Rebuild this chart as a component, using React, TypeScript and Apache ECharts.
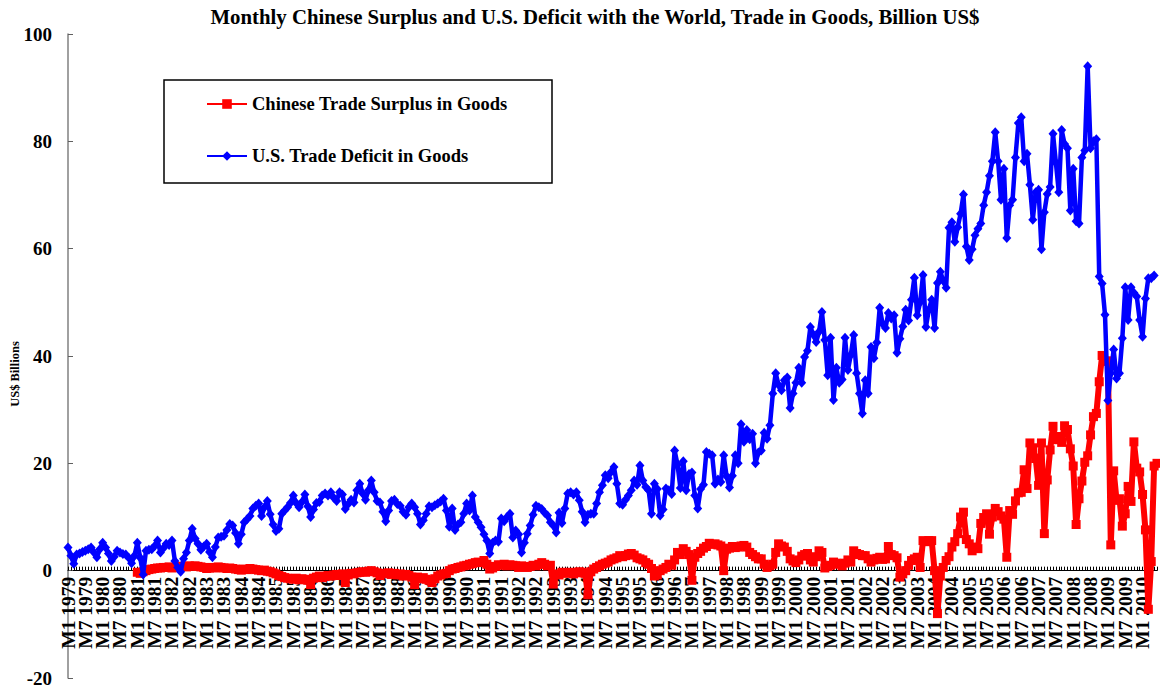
import React, { useEffect, useRef } from "react";
import * as echarts from "echarts";

// Category labels: monthly, M1 1979 .. M6 2010
const startYear = 1979;
const monthCount = 378;
const categories: string[] = [];
for (let k = 0; k < monthCount; k++) {
  const y = startYear + Math.floor(k / 12);
  const m = (k % 12) + 1;
  categories.push("M" + m + " " + y);
}
// tick labels: every sixth month, M1 1979 .. M1 2010
const LABEL_EVERY = 6;
const lastLabelIndex = 372;
const labelCategories = categories.filter((_, k) => k % LABEL_EVERY === 0 && k <= lastLabelIndex);

const yTicks = [-20, 0, 20, 40, 60, 80, 100];

// U.S. trade deficit in goods, billion US$ (M1 1979 .. M5 2010)
const usDeficit: (number | null)[] = [
  /*1979*/ 4.3, 2.8, 1.3, 3.0, 3.2, 3.5, 3.7, 4.0, 4.3, 3.4, 2.5, 4.0,
  /*1980*/ 5.2, 4.3, 3.2, 1.8, 2.6, 3.7, 3.4, 3.1, 3.0, 2.4, 1.4, 2.8,
  /*1981*/ 5.2, 2.4, -0.7, 3.7, 3.9, 4.0, 4.6, 5.6, 3.4, 4.2, 5.0, 4.8,
  /*1982*/ 5.6, 1.8, 0.6, -0.2, 2.2, 3.4, 5.6, 7.8, 6.0, 5.0, 3.9, 4.5,
  /*1983*/ 5.0, 3.5, 2.5, 4.4, 6.2, 6.3, 6.5, 7.6, 8.7, 8.4, 7.0, 5.0,
  /*1984*/ 6.8, 9.0, 9.6, 10.2, 11.6, 12.1, 12.5, 10.2, 11.8, 13.0, 10.5, 8.6,
  /*1985*/ 7.4, 7.8, 10.6, 11.2, 11.8, 12.6, 14.0, 12.6, 11.8, 12.8, 14.2, 12.0,
  /*1986*/ 10.0, 11.4, 12.6, 12.8, 14.0, 14.4, 14.0, 14.6, 13.6, 13.0, 14.6, 14.2,
  /*1987*/ 11.5, 12.4, 13.2, 12.7, 15.0, 16.2, 14.4, 13.2, 15.0, 16.8, 14.6, 13.0,
  /*1988*/ 12.7, 11.0, 9.2, 11.2, 13.0, 13.2, 12.4, 12.1, 11.0, 10.4, 11.8, 12.5,
  /*1989*/ 11.8, 10.6, 8.6, 9.4, 10.6, 12.0, 11.8, 12.2, 12.5, 12.9, 13.4, 11.2,
  /*1990*/ 8.2, 11.6, 7.6, 8.6, 9.0, 10.6, 12.5, 11.2, 14.0, 10.0, 9.0, 8.1,
  /*1991*/ 6.8, 5.6, 3.2, 5.2, 5.6, 5.4, 9.7, 9.2, 10.0, 10.6, 6.2, 7.5,
  /*1992*/ 6.8, 3.4, 5.2, 6.9, 8.4, 10.4, 12.1, 11.8, 11.5, 10.8, 10.3, 9.0,
  /*1993*/ 8.4, 7.1, 10.8, 8.9, 11.6, 14.4, 14.6, 14.2, 14.6, 13.1, 11.0, 9.0,
  /*1994*/ 10.4, 10.6, 10.6, 12.5, 14.6, 15.9, 17.8, 17.2, 18.4, 19.3, 16.2, 12.5,
  /*1995*/ 12.3, 13.2, 14.0, 15.0, 16.8, 16.0, 19.6, 16.8, 15.6, 15.0, 10.6, 16.2,
  /*1996*/ 15.2, 10.3, 11.4, 15.3, 15.0, 14.3, 22.4, 19.8, 15.4, 20.4, 15.0, 18.0,
  /*1997*/ 18.3, 14.0, 11.6, 15.2, 16.0, 22.1, 21.8, 21.5, 16.2, 17.0, 16.5, 21.5,
  /*1998*/ 17.6, 15.5, 17.7, 21.5, 20.0, 27.3, 24.0, 26.2, 24.5, 25.5, 20.0, 22.0,
  /*1999*/ 22.4, 25.7, 24.6, 27.1, 33.0, 36.8, 34.6, 33.6, 35.5, 36.0, 30.3, 33.0,
  /*2000*/ 35.0, 37.8, 35.0, 39.8, 41.0, 45.4, 44.0, 42.6, 44.5, 48.2, 43.0, 36.4,
  /*2001*/ 43.4, 31.8, 37.8, 35.0, 35.6, 43.4, 37.4, 40.2, 43.9, 36.8, 33.0, 29.3,
  /*2002*/ 35.5, 33.0, 41.7, 39.6, 42.5, 49.0, 46.0, 45.2, 48.0, 47.0, 47.6, 40.6,
  /*2003*/ 43.2, 45.5, 48.6, 46.6, 50.5, 54.6, 47.6, 50.0, 55.1, 45.4, 48.6, 50.5,
  /*2004*/ 45.2, 53.6, 55.7, 54.0, 52.7, 63.9, 64.9, 61.3, 64.0, 66.5, 70.1, 60.4,
  /*2005*/ 57.9, 59.9, 62.5, 63.7, 64.7, 68.1, 70.5, 73.6, 76.3, 81.7, 76.3, 69.1,
  /*2006*/ 74.9, 62.0, 68.1, 69.1, 77.0, 83.4, 84.5, 76.3, 77.7, 71.9, 65.4, 70.5,
  /*2007*/ 71.0, 59.9, 66.8, 70.2, 71.5, 81.4, 76.0, 70.5, 82.1, 79.5, 78.7, 67.1,
  /*2008*/ 74.9, 65.1, 64.7, 77.0, 78.3, 94.0, 78.7, 80.0, 80.4, 54.8, 53.5, 47.7,
  /*2009*/ 31.7, 36.8, 41.2, 35.8, 36.8, 43.3, 52.8, 46.7, 52.8, 51.8, 51.1, 46.7,
  /*2010*/ 43.6, 50.7, 54.5, 54.5, 55.0,
];

// Chinese trade surplus in goods, billion US$ (data from M1 1981 .. M6 2010)
const chinaSurplus: (number | null)[] = [
  /*1979*/ null, null, null, null, null, null, null, null, null, null, null, null,
  /*1980*/ null, null, null, null, null, null, null, null, null, null, null, null,
  /*1981*/ -0.3, -0.5, -0.2, 0.0, 0.2, 0.3, 0.4, 0.5, 0.5, 0.6, 0.6, 0.7,
  /*1982*/ 0.5, 0.6, 0.7, 0.8, 0.8, 0.7, 0.9, 0.8, 0.9, 0.8, 0.7, 0.6,
  /*1983*/ 0.4, 0.5, 0.6, 0.5, 0.7, 0.6, 0.5, 0.4, 0.5, 0.4, 0.3, 0.2,
  /*1984*/ 0.1, 0.3, 0.2, 0.4, 0.3, 0.2, 0.1, 0.0, 0.1, -0.1, -0.2, -0.4,
  /*1985*/ -0.6, -0.9, -1.1, -1.3, -1.4, -1.5, -1.6, -1.4, -1.7, -1.5, -1.6, -1.8,
  /*1986*/ -2.6, -1.4, -1.2, -1.0, -1.3, -1.1, -0.9, -1.0, -0.8, -0.7, -0.9, -0.6,
  /*1987*/ -2.2, -0.8, -0.5, -0.6, -0.4, -0.3, -0.2, -0.3, -0.1, 0.0, -0.2, -0.4,
  /*1988*/ -0.9, -0.5, -0.6, -0.4, -0.7, -0.5, -0.8, -0.6, -1.0, -0.7, -0.9, -1.2,
  /*1989*/ -2.6, -1.2, -1.5, -1.3, -1.6, -1.8, -2.2, -1.5, -1.0, -0.8, -0.6, -0.5,
  /*1990*/ 0.0, 0.3, 0.4, 0.6, 0.7, 0.9, 1.0, 1.2, 1.3, 1.5, 1.6, 1.5,
  /*1991*/ 1.9, 1.2, 0.3, 0.5, 0.8, 1.1, 1.0, 1.2, 0.9, 1.1, 1.0, 0.9,
  /*1992*/ 0.6, 0.9, 0.7, 0.6, 0.8, 1.0, 0.9, 1.2, 1.5, 1.2, 0.9, 1.0,
  /*1993*/ -2.5, -0.6, -0.8, -0.3, -0.5, -0.4, -0.3, -0.6, -0.4, -0.2, -0.3, -0.5,
  /*1994*/ -4.5, -0.2, 0.3, 0.6, 0.9, 1.2, 1.4, 1.6, 2.0, 2.2, 2.4, 2.8,
  /*1995*/ 2.6, 2.8, 3.1, 3.2, 2.9, 2.4, 2.2, 2.0, 1.5, 1.2, 0.4, -1.0,
  /*1996*/ -0.8, 0.0, 0.3, 0.6, 1.2, 1.0, 2.0, 3.4, 3.0, 4.1, 3.6, 3.0,
  /*1997*/ -1.8, 2.5, 3.2, 3.6, 4.2, 4.5, 5.1, 4.9, 5.0, 4.8, 4.6, 0.0,
  /*1998*/ 4.0, 4.2, 4.5, 4.3, 4.4, 4.6, 4.7, 4.4, 3.4, 3.0, 2.6, 2.2,
  /*1999*/ 2.2, 1.2, 0.6, 0.9, 1.2, 3.4, 5.0, 4.6, 4.4, 3.6, 2.2, 1.8,
  /*2000*/ 1.5, 2.0, 2.7, 3.0, 3.2, 2.0, 1.6, 2.6, 3.7, 3.4, 0.5, 0.8,
  /*2001*/ 1.0, 1.6, 1.4, 1.2, 0.9, 1.4, 2.0, 1.6, 3.7, 3.2, 3.0, 2.8,
  /*2002*/ 2.8, 2.2, 1.6, 2.0, 2.3, 2.5, 2.1, 2.2, 4.5, 3.0, 2.8, 2.4,
  /*2003*/ -1.2, -0.6, 0.0, 1.0, 1.9, 2.2, 2.5, 0.6, 5.6, 5.4, 5.6, 5.6,
  /*2004*/ 0.0, -8.0, -1.0, 0.6, 1.9, 2.6, 4.4, 5.4, 6.9, 10.0, 10.9, 5.8,
  /*2005*/ 5.0, 3.7, 4.4, 4.1, 8.8, 9.9, 10.6, 6.8, 10.0, 11.6, 11.0, 10.2,
  /*2006*/ 9.6, 2.5, 11.2, 10.5, 13.0, 14.5, 14.6, 18.8, 15.3, 23.8, 22.9, 20.9,
  /*2007*/ 15.9, 23.8, 6.9, 16.9, 22.5, 26.9, 24.4, 25.0, 23.9, 27.0, 26.3, 22.7,
  /*2008*/ 19.5, 8.6, 13.4, 16.7, 20.2, 21.4, 25.3, 28.7, 29.3, 35.2, 40.1, 39.0,
  /*2009*/ 39.1, 4.8, 18.6, 13.1, 13.4, 8.3, 10.6, 15.7, 12.9, 24.0, 19.1, 18.4,
  /*2010*/ 14.2, 7.6, -7.2, 1.7, 19.5, 20.0,
];

const seriesNames = ["Chinese Trade Surplus in Goods", "U.S. Trade Deficit in Goods"];
const titleText =
  "Monthly Chinese Surplus and U.S. Deficit with the World, Trade in Goods, Billion US$";

const SERIF = "'Liberation Serif', 'Times New Roman', serif";

// plot geometry (page pixels)
const PLOT_LEFT = 68;
const PLOT_RIGHT_GAP = 3;
const PLOT_WIDTH = 1160 - PLOT_LEFT - PLOT_RIGHT_GAP;
const STEP = PLOT_WIDTH / (monthCount - 1);
const LABEL_RIGHT_GAP = 1160 - (PLOT_LEFT + STEP * lastLabelIndex);

export default function App() {
  const ref = useRef<HTMLDivElement>(null);

  useEffect(() => {
    if (!ref.current) return;
    const chart = echarts.init(ref.current, undefined, { renderer: "svg" });
    chart.setOption({
      animation: false,
      backgroundColor: "#ffffff",
      title: {
        text: titleText,
        left: 590,
        top: 1,
        textAlign: "center",
        textStyle: {
          fontFamily: SERIF,
          fontWeight: "bold",
          fontSize: 20.8,
          color: "#000",
        },
      },
      legend: {
        orient: "vertical",
        left: 206,
        top: 94,
        padding: 0,
        itemWidth: 40,
        itemHeight: 12,
        itemGap: 32,
        data: seriesNames,
        textStyle: {
          fontFamily: SERIF,
          fontWeight: "bold",
          fontSize: 18.5,
          lineHeight: 20,
          color: "#000",
        },
      },
      grid: [
        { left: PLOT_LEFT, right: PLOT_RIGHT_GAP, top: 34, bottom: 12, containLabel: false, outerBoundsMode: "none" },
        { left: PLOT_LEFT, right: LABEL_RIGHT_GAP, top: 34, bottom: 119.3, containLabel: false, outerBoundsMode: "none" },
      ],
      xAxis: [
        {
          type: "category",
          gridIndex: 0,
          data: categories,
          boundaryGap: false,
          axisLine: { show: true, onZero: true, lineStyle: { color: "#000", width: 1 } },
          axisTick: { show: true, inside: true, interval: 0, length: 4, lineStyle: { color: "#000", width: 1 } },
          axisLabel: { show: false },
          splitLine: { show: false },
        },
        {
          type: "category",
          gridIndex: 1,
          data: labelCategories,
          boundaryGap: false,
          position: "bottom",
          axisLine: { show: false, onZero: false },
          axisTick: { show: false },
          axisLabel: {
            interval: 0,
            rotate: 90,
            margin: 6,
            hideOverlap: false,
            lineHeight: 13,
            fontFamily: SERIF,
            fontWeight: "bold",
            fontSize: 19.5,
            color: "#000",
          },
          splitLine: { show: false },
        },
      ],
      yAxis: [
        {
          type: "value",
          gridIndex: 0,
          min: yTicks[0],
          max: yTicks[yTicks.length - 1],
          interval: 20,
          axisLine: { show: true, lineStyle: { color: "#808080", width: 1.5 } },
          axisTick: { show: true, inside: true, length: 5, lineStyle: { color: "#606060", width: 1 } },
          axisLabel: {
            margin: 16,
            fontFamily: SERIF,
            fontWeight: "bold",
            fontSize: 19,
            color: "#000",
          },
          splitLine: { show: false },
        },
        {
          type: "value",
          gridIndex: 1,
          min: 0,
          max: 100,
          show: false,
        },
      ],
      graphic: [
        {
          type: "rect",
          shape: { x: 164, y: 80, width: 388, height: 103 },
          style: { fill: "none", stroke: "#000", lineWidth: 1.5 },
          z: 10,
        },
        {
          type: "text",
          x: 15,
          y: 374,
          rotation: Math.PI / 2,
          style: {
            text: "US$ Billions",
            align: "center",
            verticalAlign: "middle",
            font: "bold 12.5px " + SERIF,
            fill: "#000",
          },
        },
      ],
      series: [
        {
          name: seriesNames[0],
          type: "line",
          xAxisIndex: 0,
          yAxisIndex: 0,
          data: chinaSurplus,
          connectNulls: false,
          symbol: "rect",
          symbolSize: 9,
          showAllSymbol: true,
          color: "#ff0000",
          itemStyle: { color: "#ff0000" },
          lineStyle: { color: "#ff0000", width: 6 },
          z: 2,
        },
        {
          name: seriesNames[1],
          type: "line",
          xAxisIndex: 0,
          yAxisIndex: 0,
          data: usDeficit,
          symbol: "diamond",
          symbolSize: [9, 10],
          showAllSymbol: true,
          color: "#0000ff",
          itemStyle: { color: "#0000ff" },
          lineStyle: { color: "#0000ff", width: 4.5 },
          z: 3,
        },
      ],
    });
    return () => chart.dispose();
  }, []);

  return (
    <div
      ref={ref}
      style={{ position: "absolute", left: 0, top: 0, width: 1160, height: 690, background: "#fff" }}
    />
  );
}
